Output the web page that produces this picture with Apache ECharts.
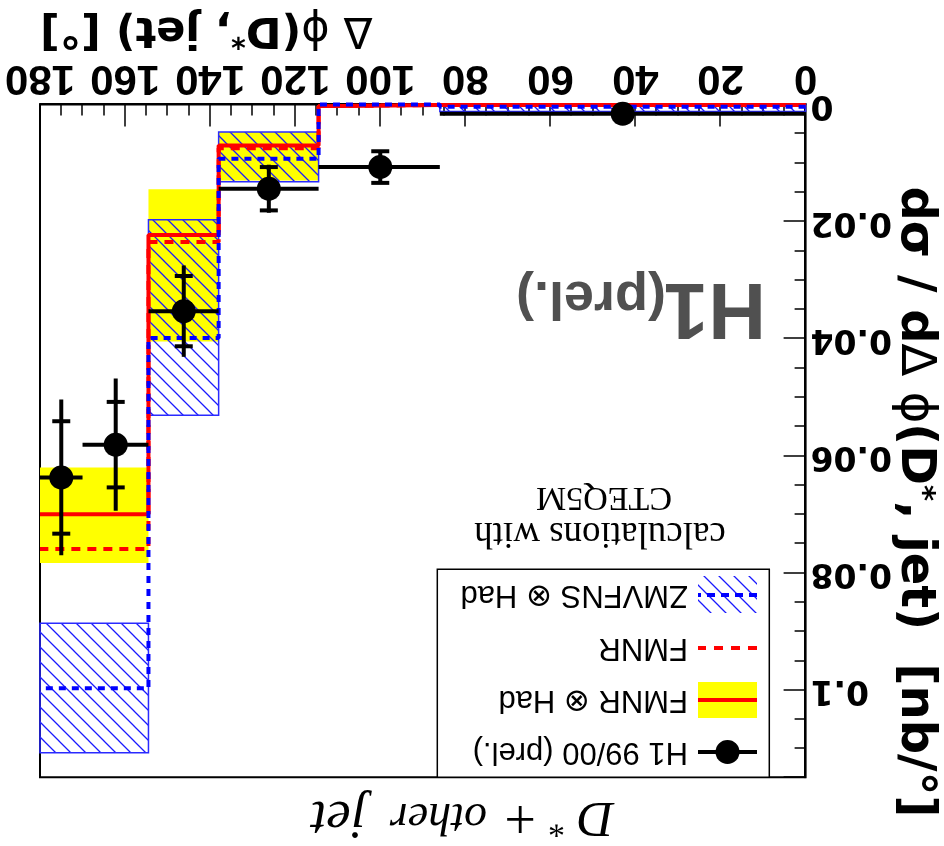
<!DOCTYPE html>
<html><head><meta charset="utf-8">
<script src="https://cdn.jsdelivr.net/npm/echarts@6/dist/echarts.min.js"></script>
<style>
html,body{margin:0;padding:0;background:#fff;}
#wrap{width:944px;height:846px;transform:rotate(180deg);transform-origin:50% 50%;}
#chart{width:944px;height:846px;}
</style></head>
<body><div id="wrap"><div id="chart"></div></div>
<script>
// ---- H1 data (Δφ in degrees, dσ/dΔφ in nb/°) ----
const dataBinLo = [0, 86, 114.5, 138, 154.5, 170];
const dataBinHi = [86, 114.5, 138, 154.5, 170, 180];
const dataX     = [43, 100, 126.2, 146.2, 162.2, 175];
const dataY     = [0.0016, 0.0107, 0.0144, 0.0353, 0.0581, 0.0637];
const dataStat  = [0.0003, 0.0027, 0.0037, 0.0060, 0.0073, 0.0096];
const dataTot   = [0.0003, 0.0027, 0.0041, 0.0078, 0.0113, 0.0133];

// ---- theory (bins) ----
const thBinLo     = [0, 86, 114.5, 138, 154.5];
const thBinHi     = [86, 114.5, 138, 154.5, 180];
const fmnrHad     = [0.0001, 0.0003, 0.0070, 0.0223, 0.0700];
const fmnrHadLow  = [0.0001, 0.0003, 0.0047, 0.0145, 0.0620];
const fmnrHadHigh = [0.0001, 0.0003, 0.0130, 0.0405, 0.0783];
const fmnr        = [0.0001, 0.0003, 0.0075, 0.0235, 0.0759];
const zmvfnsHad   = [0.0004, 0.0000, 0.0093, 0.0399, 0.0997];
const zmvfnsLow   = [0.0000, 0.0000, 0.0047, 0.0197, 0.0886];
const zmvfnsHigh  = [0.0012, 0.0000, 0.0132, 0.0531, 0.1107];

// ---- axis ----
const xTicks = [0, 20, 40, 60, 80, 100, 120, 140, 160, 180];
const yTickLabels = ['0', '0.02', '0.04', '0.06', '0.08', '0.1'];

const BLUE = '#0000ff', RED = '#ff0000', YELLOW = '#ffff00';

const hatchCanvas = document.createElement('canvas');
hatchCanvas.width = 15; hatchCanvas.height = 15;
(function(){
  const c = hatchCanvas.getContext('2d');
  c.strokeStyle = '#1a1aff'; c.lineWidth = 1.3;
  c.beginPath();
  c.moveTo(-2,-2); c.lineTo(17,17);
  c.moveTo(13,-2); c.lineTo(17,2);
  c.moveTo(-2,13); c.lineTo(2,17);
  c.stroke();
})();
const hatch = {image: hatchCanvas, repeat: 'repeat'};

function steps(vals){
  const out = [];
  vals.forEach((v,i)=>{ out.push([thBinLo[i], v]); out.push([thBinHi[i], v]); });
  return out;
}
function bandData(lo, hi){
  return thBinLo.map((l,i)=>[l, thBinHi[i], lo[i], hi[i]]);
}
function bandItem(fill, stroke){
  return function(params, api){
    const lo = api.value(0), hi = api.value(1), a = api.value(2), b = api.value(3);
    if (b <= a) return {type:'group', children:[]};
    const p0 = api.coord([lo, b]), p1 = api.coord([hi, a]);
    return {type:'rect', shape:{x:p0[0], y:p0[1], width:p1[0]-p0[0], height:p1[1]-p0[1]},
      style:{fill: fill, stroke: stroke || null, lineWidth: stroke ? 1.5 : 0}};
  };
}
function errItem(params, api){
  const x = api.value(0), y = api.value(1), lo = api.value(2), hi = api.value(3),
        s = api.value(4), t = api.value(5);
  const a = api.coord([lo, y]), b = api.coord([hi, y]);
  const c = api.coord([x, y - t]), d = api.coord([x, y + t]);
  const s1 = api.coord([x, y - s]), s2 = api.coord([x, y + s]);
  const ls = {stroke:'#000', lineWidth:4};
  return {type:'group', children:[
    {type:'line', shape:{x1:a[0], y1:a[1], x2:b[0], y2:b[1]}, style:ls},
    {type:'line', shape:{x1:c[0], y1:c[1], x2:d[0], y2:d[1]}, style:ls},
    {type:'line', shape:{x1:s1[0]-9, y1:s1[1], x2:s1[0]+9, y2:s1[1]}, style:ls},
    {type:'line', shape:{x1:s2[0]-9, y1:s2[1], x2:s2[0]+9, y2:s2[1]}, style:ls}
  ]};
}

const chart = echarts.init(document.getElementById('chart'), null, {renderer:'canvas', width:944, height:846});

const titleRich = {
  b: {fontFamily:'DejaVu Sans', fontWeight:'bold', fontSize:48, fill:'#000'},
  s: {fontFamily:'DejaVu Sans', fontWeight:'normal', fontSize:48, fill:'#000'},
  sup: {fontFamily:'DejaVu Sans', fontWeight:'bold', fontSize:31, fill:'#000', verticalAlign:'top'}
};
const xTitleRich = {
  b: {fontFamily:'DejaVu Sans', fontWeight:'bold', fontSize:43, fill:'#000'},
  s: {fontFamily:'DejaVu Sans', fontWeight:'normal', fontSize:43, fill:'#000'},
  sup: {fontFamily:'DejaVu Sans', fontWeight:'bold', fontSize:28, fill:'#000', verticalAlign:'top'}
};

const LX = 187, LW = 59;
const legendFont = {fontFamily:'Liberation Sans, DejaVu Sans', fontSize:31, fill:'#000', verticalAlign:'middle', align:'left'};
const serifIt = {fontFamily:'Liberation Serif', fontStyle:'italic', fill:'#000', align:'left', verticalAlign:'middle'};

chart.setOption({
  animation: false,
  backgroundColor: '#fff',
  grid: {left:138.4, right:40, top:68.7, bottom:104.4, show:true, borderColor:'#000', borderWidth:2, backgroundColor:'transparent'},
  xAxis: {
    type:'value', min:0, max:180, interval:20,
    axisLine:{show:true, onZero:false, lineStyle:{color:'#000', width:2}},
    axisTick:{show:true, inside:true, length:22, lineStyle:{color:'#000', width:1.5}},
    minorTick:{show:true, splitNumber:4, length:11, lineStyle:{color:'#000', width:1.5}},
    axisLabel:{fontFamily:'Liberation Sans', fontWeight:'bold', color:'#000', fontSize:42, margin:6,
      formatter:v=>xTicks.includes(v)?String(v):''},
    splitLine:{show:false}
  },
  yAxis: {
    type:'value', min:0, max:0.1149, interval:0.02,
    axisLine:{show:true, onZero:false, lineStyle:{color:'#000', width:2}},
    axisTick:{show:true, inside:true, length:22, lineStyle:{color:'#000', width:1.5}},
    minorTick:{show:true, splitNumber:4, length:11, lineStyle:{color:'#000', width:1.5}},
    axisLabel:{fontFamily:'DejaVu Sans', fontWeight:'bold', color:'#000', fontSize:33, margin:5, showMaxLabel:false,
      formatter:v=>{ const i = Math.round(v/0.02); return (Math.abs(v - i*0.02) < 1e-6 && yTickLabels[i]) ? yTickLabels[i] : ''; }},
    splitLine:{show:false}
  },
  series: [
    {type:'custom', name:'FMNR ⊗ Had band', data:bandData(fmnrHadLow, fmnrHadHigh), encode:{x:[0,1], y:[2,3]},
     renderItem:bandItem(YELLOW, null), z:1, clip:false},
    {type:'custom', name:'ZMVFNS ⊗ Had band', data:bandData(zmvfnsLow, zmvfnsHigh), encode:{x:[0,1], y:[2,3]},
     renderItem:bandItem(hatch, '#2a2aff'), z:2, clip:false},
    {type:'line', name:'FMNR ⊗ Had', data:steps(fmnrHad), symbol:'none', clip:false, z:3,
     lineStyle:{color:RED, width:4, type:'solid'}},
    {type:'line', name:'FMNR', data:steps(fmnr), symbol:'none', clip:false, z:4,
     lineStyle:{color:RED, width:4, type:[9,7]}},
    {type:'line', name:'ZMVFNS ⊗ Had', data:steps(zmvfnsHad), symbol:'none', clip:false, z:5,
     lineStyle:{color:BLUE, width:4, type:[7,6]}},
    {type:'custom', name:'H1 errors', data:dataX.map((x,i)=>[x, dataY[i], dataBinLo[i], dataBinHi[i], dataStat[i], dataTot[i]]),
     encode:{x:0, y:1}, renderItem:errItem, z:6, clip:false},
    {type:'scatter', name:'H1 99/00 (prel.)', data:dataX.map((x,i)=>[x, dataY[i]]), symbol:'circle', symbolSize:24,
     itemStyle:{color:'#000', opacity:1}, z:7}
  ],
  graphic: [
    // y-axis title
    {type:'text', x:30, y:344, rotation:Math.PI/2, z:10,
     style:{text:'{b|dσ / d}{s|Δ ϕ}{b|(D}{sup|*}{b|, jet)  [nb/°]}', rich:titleRich, align:'center', verticalAlign:'middle'}},
    // x-axis title
    {type:'text', x:904, y:817, z:10,
     style:{text:'{s|Δ ϕ}{b|(D}{sup|*}{b|, jet) [°]}', rich:xTitleRich, align:'right', verticalAlign:'middle'}},
    // H1 (prel.)
    {type:'text', x:178, y:540, z:10, style:{text:'H1', fontFamily:'Liberation Sans', fontWeight:'bold', fontSize:80, fill:'#505050', align:'left', verticalAlign:'middle'}},
    {type:'text', x:278, y:549, z:10, style:{text:'(prel.)', fontFamily:'Liberation Sans', fontWeight:'bold', fontSize:54, fill:'#505050', align:'left', verticalAlign:'middle'}},
    // calculations
    {type:'text', x:344, y:313, z:10, style:{text:'calculations with', fontFamily:'Liberation Serif', fontSize:37, fill:'#000', align:'center', verticalAlign:'middle'}},
    {type:'text', x:340, y:349, z:10, style:{text:'CTEQ5M', fontFamily:'Liberation Serif', fontSize:34, fill:'#000', align:'center', verticalAlign:'middle'}},
    // D* + other jet
    {type:'text', x:330, y:30, z:10, style:Object.assign({text:'D', fontSize:50}, serifIt)},
    {type:'text', x:379, y:22, z:10, style:{text:'*', fontFamily:'Liberation Serif', fontSize:34, fill:'#000', align:'left', verticalAlign:'middle'}},
    {type:'text', x:408, y:31, z:10, style:{text:'+', fontFamily:'Liberation Serif', fontSize:56, fill:'#000', align:'left', verticalAlign:'middle'}},
    {type:'text', x:457, y:30, z:10, style:Object.assign({text:'other', fontSize:46}, serifIt)},
    {type:'text', x:578, y:30, z:10, style:Object.assign({text:'jet', fontSize:55}, serifIt)},
    // legend box
    {type:'rect', z:20, shape:{x:174.7, y:68.7, width:332, height:208}, style:{fill:'#fff', stroke:'#000', lineWidth:1.5}},
    // entry 1: H1
    {type:'line', z:21, shape:{x1:LX, y1:94, x2:LX+LW, y2:94}, style:{stroke:'#000', lineWidth:4}},
    {type:'circle', z:22, shape:{cx:LX+LW/2, cy:94, r:12}, style:{fill:'#000'}},
    {type:'text', z:21, x:256, y:94, style:Object.assign({text:'H1 99/00 (prel.)'}, legendFont)},
    // entry 2: FMNR ⊗ Had
    {type:'rect', z:21, shape:{x:LX, y:128, width:LW, height:36}, style:{fill:YELLOW}},
    {type:'line', z:22, shape:{x1:LX, y1:146, x2:LX+LW, y2:146}, style:{stroke:RED, lineWidth:4}},
    {type:'text', z:21, x:256, y:146, style:Object.assign({text:'FMNR ⊗ Had'}, legendFont)},
    // entry 3: FMNR
    {type:'line', z:21, shape:{x1:LX, y1:198, x2:LX+LW, y2:198}, style:{stroke:RED, lineWidth:4, lineDash:[9,8]}},
    {type:'text', z:21, x:256, y:198, style:Object.assign({text:'FMNR'}, legendFont)},
    // entry 4: ZMVFNS ⊗ Had
    {type:'rect', z:21, shape:{x:LX, y:233, width:LW, height:37}, style:{fill:hatch}},
    {type:'line', z:22, shape:{x1:LX, y1:251, x2:LX+LW, y2:251}, style:{stroke:BLUE, lineWidth:4, lineDash:[8,6]}},
    {type:'text', z:21, x:256, y:251, style:Object.assign({text:'ZMVFNS ⊗ Had'}, legendFont)}
  ]
});
</script>
</body></html>
